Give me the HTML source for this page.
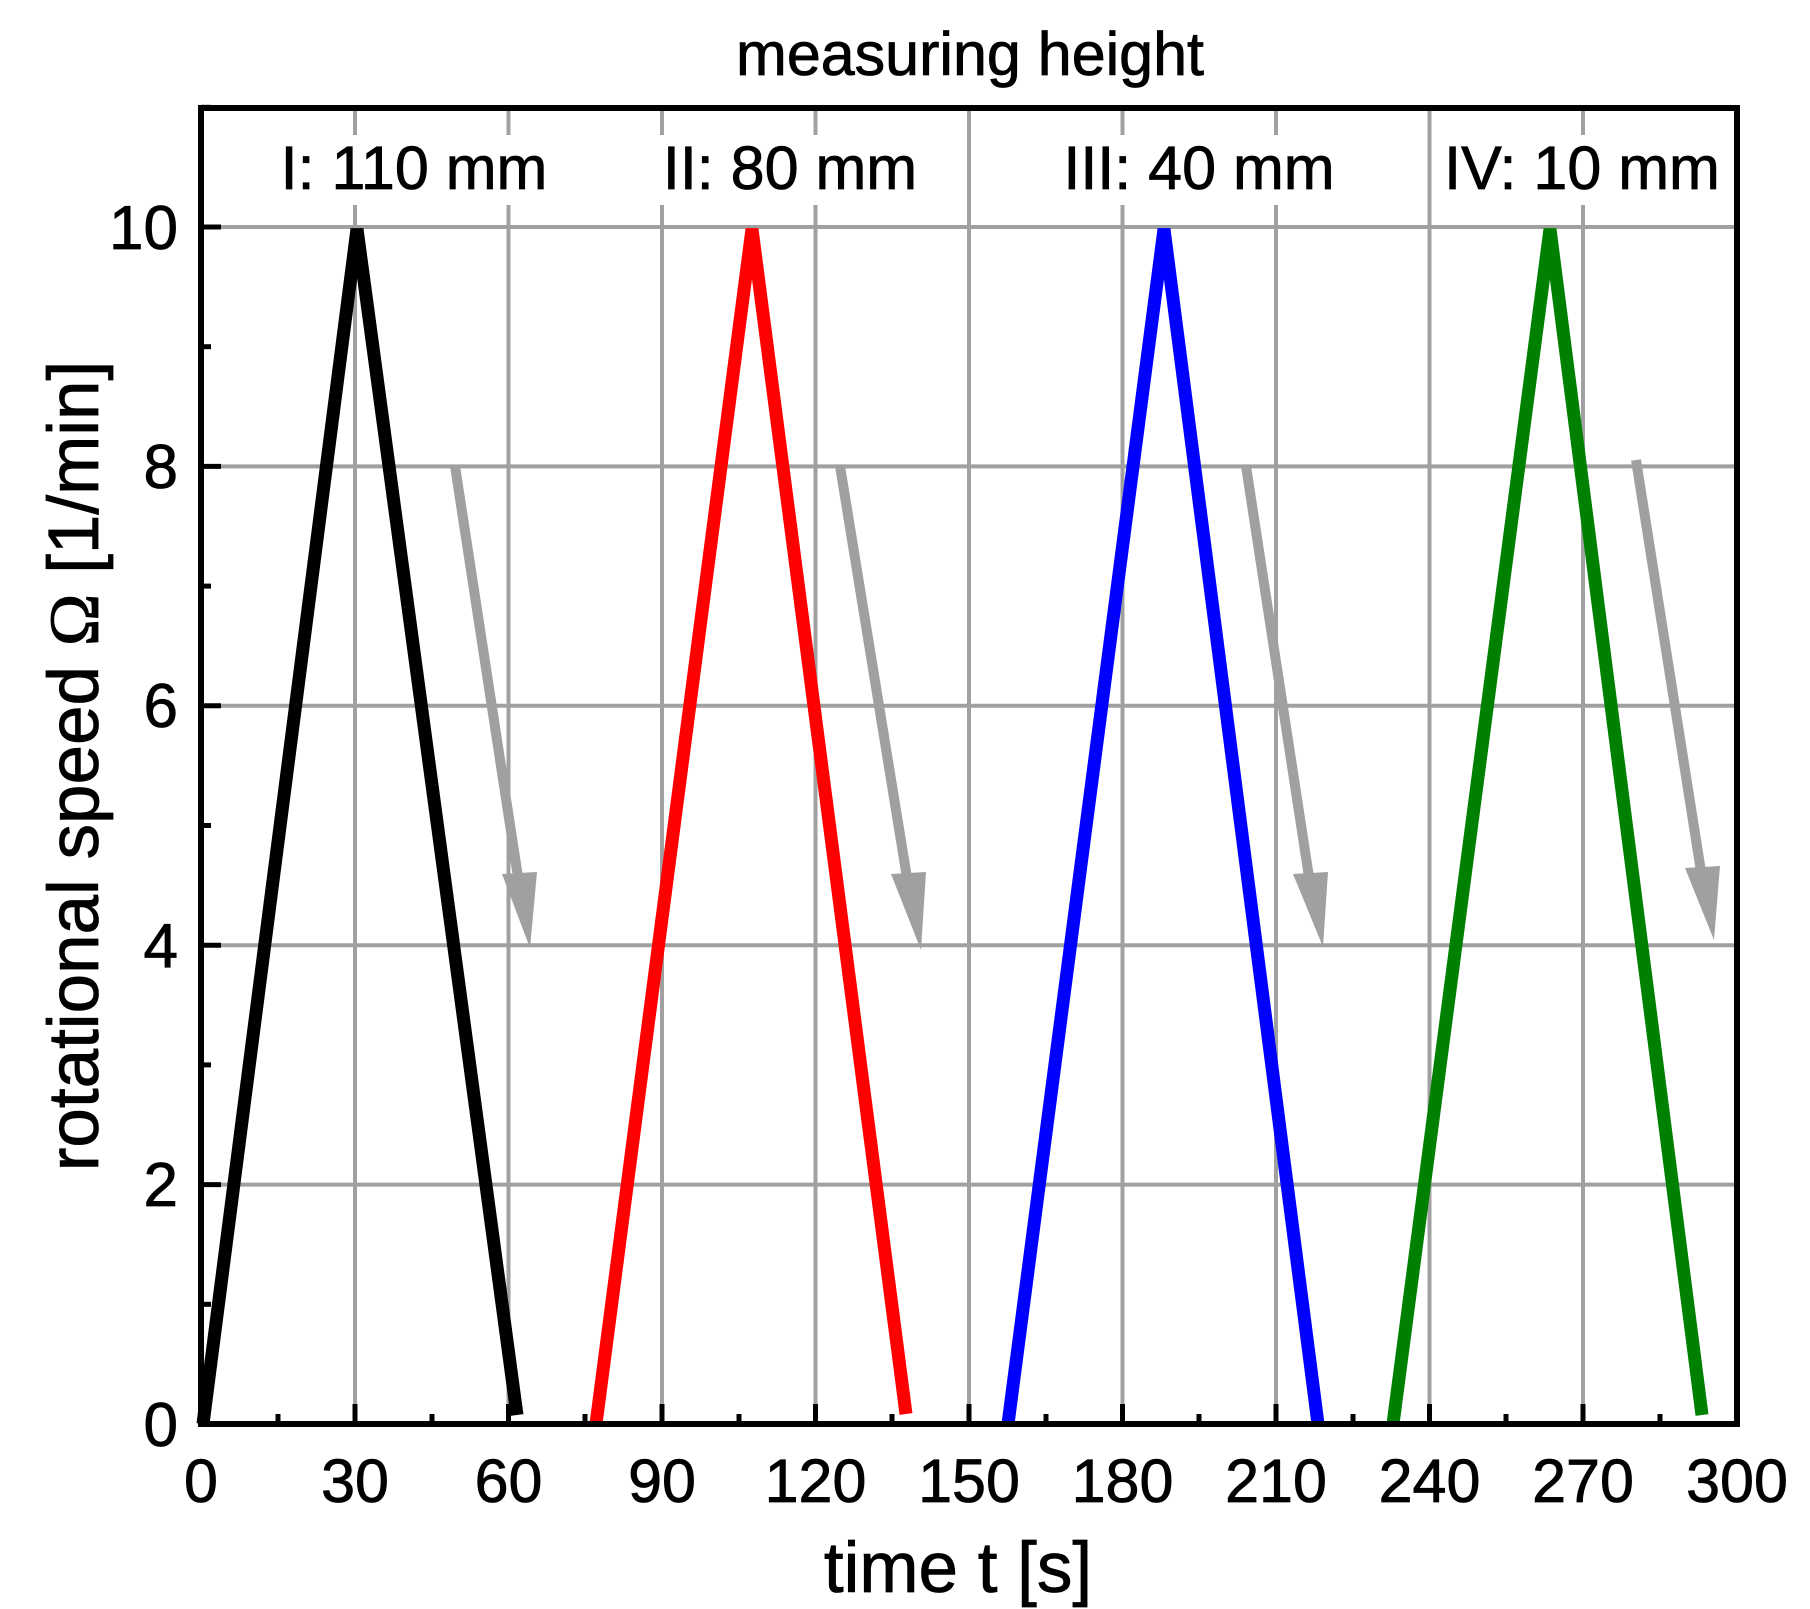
<!DOCTYPE html>
<html><head><meta charset="utf-8"><style>
html,body{margin:0;padding:0;background:#fff;}
svg{display:block;}
text{font-family:"Liberation Sans",Arial,sans-serif;fill:#000;stroke:#000;stroke-width:0.8;}
</style></head><body>
<svg width="1810" height="1609" viewBox="0 0 1810 1609" xmlns="http://www.w3.org/2000/svg">
<!-- grid -->
<g stroke="#a0a0a0" stroke-width="4">
<line x1="355" y1="108" x2="355" y2="1424"/>
<line x1="508.5" y1="108" x2="508.5" y2="1424"/>
<line x1="662" y1="108" x2="662" y2="1424"/>
<line x1="815.5" y1="108" x2="815.5" y2="1424"/>
<line x1="969" y1="108" x2="969" y2="1424"/>
<line x1="1122.5" y1="108" x2="1122.5" y2="1424"/>
<line x1="1276" y1="108" x2="1276" y2="1424"/>
<line x1="1429.5" y1="108" x2="1429.5" y2="1424"/>
<line x1="1583" y1="108" x2="1583" y2="1424"/>
<line x1="201" y1="1184.6" x2="1737" y2="1184.6"/>
<line x1="201" y1="945.2" x2="1737" y2="945.2"/>
<line x1="201" y1="705.8" x2="1737" y2="705.8"/>
<line x1="201" y1="466.4" x2="1737" y2="466.4"/>
<line x1="201" y1="227" x2="1737" y2="227"/>
</g>
<g fill="#fff">
<rect x="275" y="135" width="280" height="70"/>
<rect x="655" y="135" width="270" height="70"/>
<rect x="1060" y="135" width="280" height="70"/>
<rect x="1440" y="135" width="290" height="70"/>
</g>
<!-- arrows -->
<g stroke="#a0a0a0" stroke-width="10" fill="#a0a0a0">
<line x1="455" y1="466" x2="520" y2="890"/>
<polygon points="502,874 537,872 530,948" stroke="none"/>
<line x1="840" y1="466" x2="909" y2="890"/>
<polygon points="891,874 926,872 921,950" stroke="none"/>
<line x1="1246" y1="466" x2="1311" y2="890"/>
<polygon points="1293,874 1328,872 1323,947" stroke="none"/>
<line x1="1636" y1="460" x2="1703" y2="884"/>
<polygon points="1685,868 1720,866 1714,940" stroke="none"/>
</g>
<!-- series -->
<g fill="none" stroke-width="13" stroke-linejoin="miter" stroke-linecap="butt">
<polyline stroke="#000" points="203,1424 357,229 517,1415"/>
<polyline stroke="#ff0000" points="596,1424 752,229 906,1414"/>
<polyline stroke="#0000ff" points="1008,1424 1164,229 1318,1424"/>
<polyline stroke="#008000" points="1393,1424 1550,229 1702,1415"/>
</g>
<!-- ticks -->
<g stroke="#000" stroke-width="5">
<line x1="278" y1="1424" x2="278" y2="1414"/><line x1="355" y1="1424" x2="355" y2="1404"/>
<line x1="432" y1="1424" x2="432" y2="1414"/><line x1="508.5" y1="1424" x2="508.5" y2="1404"/>
<line x1="585" y1="1424" x2="585" y2="1414"/><line x1="662" y1="1424" x2="662" y2="1404"/>
<line x1="739" y1="1424" x2="739" y2="1414"/><line x1="815.5" y1="1424" x2="815.5" y2="1404"/>
<line x1="892" y1="1424" x2="892" y2="1414"/><line x1="969" y1="1424" x2="969" y2="1404"/>
<line x1="1046" y1="1424" x2="1046" y2="1414"/><line x1="1122.5" y1="1424" x2="1122.5" y2="1404"/>
<line x1="1199" y1="1424" x2="1199" y2="1414"/><line x1="1276" y1="1424" x2="1276" y2="1404"/>
<line x1="1353" y1="1424" x2="1353" y2="1414"/><line x1="1429.5" y1="1424" x2="1429.5" y2="1404"/>
<line x1="1506" y1="1424" x2="1506" y2="1414"/><line x1="1583" y1="1424" x2="1583" y2="1404"/>
<line x1="1660" y1="1424" x2="1660" y2="1414"/>
<line x1="201" y1="1304.3" x2="211" y2="1304.3"/><line x1="201" y1="1184.6" x2="221" y2="1184.6"/>
<line x1="201" y1="1064.9" x2="211" y2="1064.9"/><line x1="201" y1="945.2" x2="221" y2="945.2"/>
<line x1="201" y1="825.5" x2="211" y2="825.5"/><line x1="201" y1="705.8" x2="221" y2="705.8"/>
<line x1="201" y1="586.1" x2="211" y2="586.1"/><line x1="201" y1="466.4" x2="221" y2="466.4"/>
<line x1="201" y1="346.7" x2="211" y2="346.7"/><line x1="201" y1="227" x2="221" y2="227"/>
<line x1="201" y1="107.3" x2="211" y2="107.3"/>
</g>
<rect x="201" y="108" width="1536" height="1316" fill="none" stroke="#000" stroke-width="6"/>
<!-- labels -->
<g font-size="61" text-anchor="middle">
<text x="970" y="75">measuring height</text>
<text x="414" y="189">I: 110 mm</text>
<text x="790" y="189">II: 80 mm</text>
<text x="1199" y="189">III: 40 mm</text>
<text x="1582" y="189">IV: 10 mm</text>
<text x="201" y="1502">0</text><text x="355" y="1502">30</text><text x="508.5" y="1502">60</text>
<text x="662" y="1502">90</text><text x="815.5" y="1502">120</text><text x="969" y="1502">150</text>
<text x="1122.5" y="1502">180</text><text x="1276" y="1502">210</text><text x="1429.5" y="1502">240</text>
<text x="1583" y="1502">270</text><text x="1737" y="1502">300</text>
</g>
<g font-size="62" text-anchor="end">
<text x="178" y="1446">0</text>
<text x="178" y="1206">2</text>
<text x="178" y="967">4</text>
<text x="178" y="727">6</text>
<text x="178" y="488">8</text>
<text x="178" y="249">10</text>
</g>
<text x="958" y="1592" font-size="71" text-anchor="middle">time t [s]</text>
<text transform="translate(98,766) rotate(-90)" font-size="71" text-anchor="middle">rotational speed <tspan font-family="'Liberation Serif',serif">Ω</tspan> [1/min]</text>
</svg>
</body></html>
